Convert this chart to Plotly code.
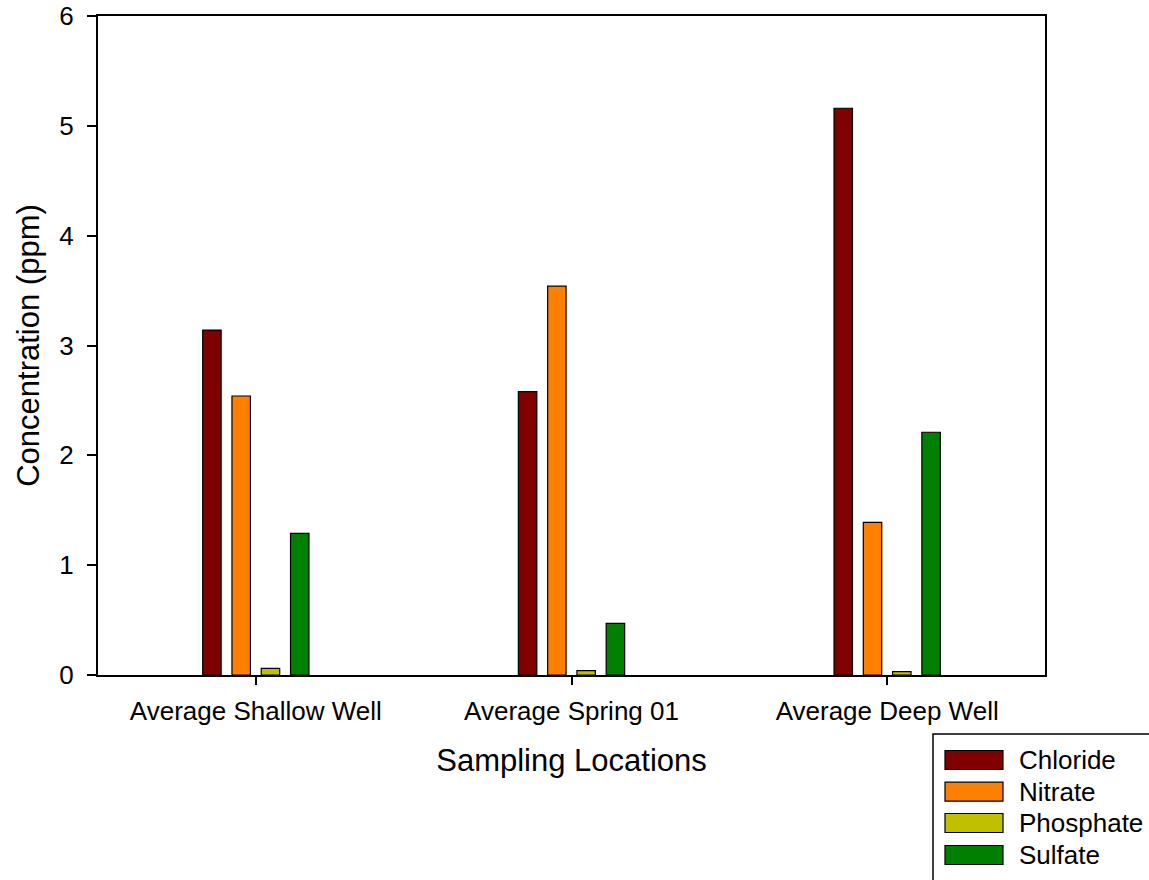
import plotly.graph_objects as go

# Sampling locations and average ion concentrations (ppm)
locations = ["Average Shallow Well", "Average Spring 01", "Average Deep Well"]
chloride = [3.14, 2.58, 5.16]
nitrate = [2.54, 3.54, 1.39]
phosphate = [0.06, 0.04, 0.03]
sulfate = [1.29, 0.47, 2.21]

series_names = ["Chloride", "Nitrate", "Phosphate", "Sulfate"]
series_values = [chloride, nitrate, phosphate, sulfate]
series_colors = ["#800000", "#FF8000", "#C0C000", "#008000"]

FONT = "Liberation Sans, Arial, sans-serif"

W, H = 1149, 880
M_L, M_R, M_T, M_B = 98, 104, 16, 205
PW = W - M_L - M_R
PH = H - M_T - M_B


def px_x(px):
    return (px - M_L) / PW


def px_y(py):
    return (H - M_B - py) / PH


fig = go.Figure()
for name, vals, color in zip(series_names, series_values, series_colors):
    fig.add_trace(go.Bar(
        x=locations, y=vals, name=name,
        marker=dict(color=color, line=dict(color="black", width=1.2)),
        showlegend=False,
    ))

# Boxed key in the lower right corner
shapes = [dict(type="rect", xref="paper", yref="paper",
               x0=px_x(933), x1=px_x(1170), y0=px_y(734), y1=px_y(900),
               line=dict(color="black", width=1.5), fillcolor="white",
               layer="above")]
annotations = []
row_y = [760, 791.7, 823, 855]
for name, color, yc in zip(series_names, series_colors, row_y):
    shapes.append(dict(type="rect", xref="paper", yref="paper",
                       x0=px_x(945), x1=px_x(1003),
                       y0=px_y(yc + 9.5), y1=px_y(yc - 9.5),
                       fillcolor=color, line=dict(color="black", width=1.2),
                       layer="above"))
    annotations.append(dict(xref="paper", yref="paper", x=px_x(1017), y=px_y(yc),
                            text=name, showarrow=False, xanchor="left",
                            yanchor="middle",
                            font=dict(family=FONT, size=26, color="black")))

fig.update_layout(
    width=W, height=H,
    margin=dict(l=M_L, r=M_R, t=M_T, b=M_B, pad=0),
    paper_bgcolor="white", plot_bgcolor="white",
    barmode="group", bargap=0.629, bargroupgap=0.37,
    font=dict(family=FONT, size=26, color="black"),
    shapes=shapes, annotations=annotations,
    xaxis=dict(
        automargin=False,
        showline=True, linecolor="black", linewidth=2, mirror=True,
        ticks="outside", ticklen=8, tickwidth=1.5, tickcolor="black",
        showgrid=False, zeroline=False,
        tickfont=dict(family=FONT, size=26, color="black"),
        ticklabelstandoff=4,
        title=dict(text="Sampling Locations", standoff=24,
                   font=dict(family=FONT, size=31, color="black")),
    ),
    yaxis=dict(
        automargin=False,
        range=[0, 6], dtick=1, tick0=0,
        showline=True, linecolor="black", linewidth=2, mirror=True,
        ticks="outside", ticklen=9, tickwidth=1.5, tickcolor="black",
        showgrid=False, zeroline=False,
        tickfont=dict(family=FONT, size=26, color="black"),
        ticklabelstandoff=8,
        title=dict(text="Concentration (ppm)", standoff=10,
                   font=dict(family=FONT, size=31, color="black")),
    ),
)

fig.write_html("out.html")
